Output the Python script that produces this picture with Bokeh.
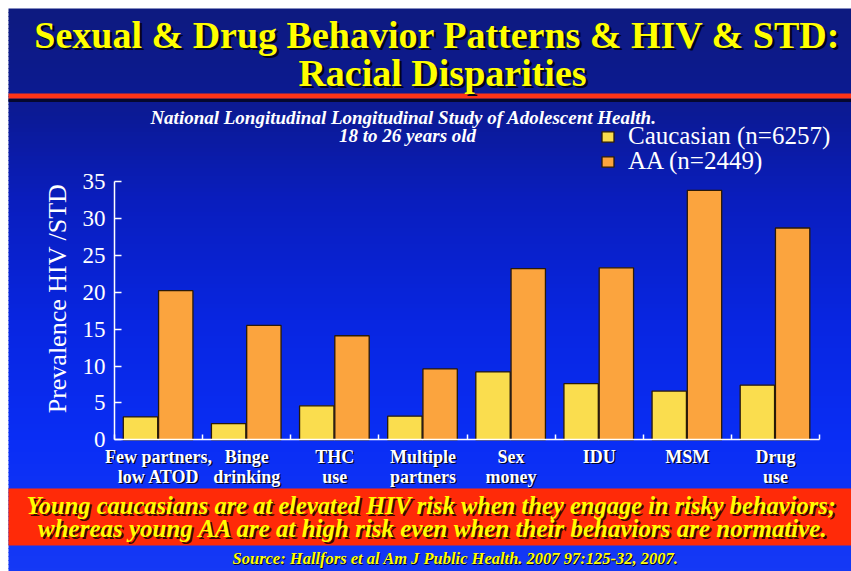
import numpy as np
from bokeh.plotting import figure
from bokeh.models import (Range1d, LinearAxis, FixedTicker, Legend,
                          LegendItem, ColumnDataSource)
from bokeh.core.properties import value
from bokeh.embed import file_html
from bokeh.resources import INLINE

# ---------------- data ----------------
categories = ["Few partners,\nlow ATOD", "Binge\ndrinking", "THC\nuse",
              "Multiple\npartners", "Sex\nmoney", "IDU", "MSM", "Drug\nuse"]
caucasian = [3.1, 2.2, 4.6, 3.2, 9.2, 7.6, 6.6, 7.4]
aa = [20.2, 15.5, 14.1, 9.6, 23.2, 23.3, 33.8, 28.7]
series_names = ["Caucasian (n=6257)", "AA (n=2449)"]
y_ticks = [0, 5, 10, 15, 20, 25, 30, 35]

title_lines = ["Sexual & Drug Behavior Patterns & HIV & STD:", "Racial Disparities"]
subtitle_lines = ["National Longitudinal Longitudinal Study of Adolescent Health.",
                  "18 to 26 years old"]
y_label = "Prevalence HIV /STD"
banner_lines = ["Young caucasians are at elevated HIV risk when they engage in risky behaviors;",
                "whereas young AA are at high risk even when their behaviors are normative."]
source_text = "Source: Hallfors et al Am J Public Health. 2007 97:125-32, 2007."

# ---------------- layout helpers ----------------
W, H = 851, 571
X0_REF, X_PX = 114.0, 88.125   # pixel of x=0, px per category
Y0_REF, Y_PX = 439.3, 7.38     # pixel of y=0, px per unit


def dx(X):
    return (X - X0_REF) / X_PX


def dy(Y):
    return (Y0_REF - Y) / Y_PX


SERIF = "Liberation Serif"

p = figure(width=W, height=H, output_backend="svg", toolbar_location=None,
           x_range=Range1d(dx(0), dx(W)), y_range=Range1d(dy(H), dy(0)),
           x_axis_type=None, y_axis_type=None, min_border=0,
           outline_line_color=None)
p.background_fill_color = "white"
p.border_fill_color = "white"

# background gradient (slide starts 8px in from the left/top)
stops_y = [8, 110, 200, 320, 440, 580]
stops_r = [14, 12, 10, 8, 10, 22]
stops_g = [26, 26, 30, 38, 46, 58]
stops_b = [128, 148, 190, 225, 245, 245]
edges = np.arange(8, H + 4, 4)
bg_cols = []
for Y in edges[:-1]:
    c = Y + 2
    r = int(np.interp(c, stops_y, stops_r))
    g = int(np.interp(c, stops_y, stops_g))
    b = int(np.interp(c, stops_y, stops_b))
    bg_cols.append("#%02x%02x%02x" % (r, g, b))
p.quad(left=dx(8), right=dx(W + 10), top=[dy(max(Y - 0.5, 8)) for Y in edges[:-1]],
       bottom=[dy(Y + 4.5) for Y in edges[:-1]], fill_color=bg_cols, line_color=None)

# title rule
p.quad(left=dx(8), right=dx(W + 10), top=dy(98), bottom=dy(101.5), fill_color="#05082e", line_color=None)
p.quad(left=dx(8), right=dx(W + 10), top=dy(93), bottom=dy(98), fill_color="#ff3418", line_color=None)
# bottom banner
p.quad(left=dx(8), right=dx(W + 10), top=dy(488), bottom=dy(545), fill_color="#ff2a08", line_color=None)

# ---------------- bars ----------------
idx = np.arange(len(categories))
src = ColumnDataSource(dict(xc=idx + 0.295, xa=idx + 0.695, cauc=caucasian, aa=aa))
r1 = p.vbar(x="xc", top="cauc", bottom=0, width=0.39, source=src,
            fill_color="#fadd4e", line_color="#2a1a08", line_width=1.3)
r2 = p.vbar(x="xa", top="aa", bottom=0, width=0.39, source=src,
            fill_color="#fba43e", line_color="#2a1a08", line_width=1.3)

# ---------------- axes ----------------
yax = LinearAxis(fixed_location=0, ticker=FixedTicker(ticks=y_ticks), bounds=(0, 35),
                 axis_line_color="white", axis_line_width=1.5,
                 major_tick_line_color="white", major_tick_line_width=1.5,
                 major_tick_in=7, major_tick_out=0, minor_tick_line_color=None,
                 major_label_text_color="white", major_label_text_font=SERIF,
                 major_label_text_font_size="23px", major_label_standoff=9)
p.add_layout(yax, "left")

lab_ticks = [float(i) + 0.5 for i in idx]
bound_ticks = [float(i) for i in range(len(categories) + 1)]
sh = 1.5 / X_PX
sh_ticks = [t + sh for t in lab_ticks]
xax_sh = LinearAxis(fixed_location=0, ticker=FixedTicker(ticks=sh_ticks),
                    major_label_overrides={t: c for t, c in zip(sh_ticks, categories)},
                    axis_line_color=None, major_tick_line_color=None, minor_tick_line_color=None,
                    major_tick_in=0, major_tick_out=0,
                    major_label_text_color="#000000", major_label_text_alpha=0.85,
                    major_label_text_font=SERIF, major_label_text_font_style="bold",
                    major_label_text_font_size="18px", major_label_text_line_height=1.0,
                    major_label_standoff=8)
p.add_layout(xax_sh, "below")
xax = LinearAxis(fixed_location=0,
                 ticker=FixedTicker(ticks=lab_ticks, minor_ticks=bound_ticks),
                 bounds=(0, len(categories)),
                 major_label_overrides={t: c for t, c in zip(lab_ticks, categories)},
                 axis_line_color="white", axis_line_width=1.5,
                 major_tick_line_color=None, major_tick_in=0, major_tick_out=0,
                 minor_tick_line_color="white", minor_tick_line_width=1.5,
                 minor_tick_in=5, minor_tick_out=0,
                 major_label_text_color="white",
                 major_label_text_font=SERIF, major_label_text_font_style="bold",
                 major_label_text_font_size="18px", major_label_text_line_height=1.0,
                 major_label_standoff=7)
p.add_layout(xax, "below")


# ---------------- texts ----------------
def add_text(text, X, Y, size, color="white", style="normal", align="center",
             shadow=0.0, shadow_color="#000000", angle=0.0):
    layers = []
    if shadow:
        layers.append((X + shadow, Y + shadow, shadow_color))
    layers.append((X, Y, color))
    for (xx, yy, col) in layers:
        p.text(x=[dx(xx)], y=[dy(yy)], text=[text], text_color=value(col),
               text_font=value(SERIF), text_font_size=value(size),
               text_font_style=value(style), text_align=value(align),
               text_baseline=value("middle"), angle=angle)


add_text(title_lines[0], 437, 34, "38px", color="#ffff00", style="bold", shadow=2.5, shadow_color="#02041c")
add_text(title_lines[1], 442, 72, "38px", color="#ffff00", style="bold", shadow=2.5, shadow_color="#02041c")
add_text(subtitle_lines[0], 403, 117, "19px", style="bold italic")
add_text(subtitle_lines[1], 407, 135, "19px", style="bold italic")
add_text(y_label, 57, 298, "26px", angle=np.pi / 2)
add_text(banner_lines[0], 431, 505, "24.5px", color="#ffff00", style="bold italic", shadow=2, shadow_color="#3a0a00")
add_text(banner_lines[1], 433, 528, "25px", color="#ffff00", style="bold italic", shadow=2, shadow_color="#3a0a00")
add_text(source_text, 455, 558, "16.5px", color="#ffff00", style="bold italic", shadow=1, shadow_color="#000033")

# ---------------- legend (one box per series so rows sit exactly) ----------------
for r, name, ypos in [(r1, series_names[0], 421), (r2, series_names[1], 396)]:
    lg = Legend(items=[LegendItem(label=name, renderers=[r])],
                location=(600, ypos), orientation="vertical",
                background_fill_alpha=0, border_line_color=None,
                label_text_color="white", label_text_font=SERIF, label_text_font_size="25px",
                glyph_width=15, glyph_height=13, label_standoff=13, spacing=0,
                padding=0, margin=0, label_height=25)
    p.add_layout(lg)

open("out.html", "w").write(file_html(p, INLINE))
